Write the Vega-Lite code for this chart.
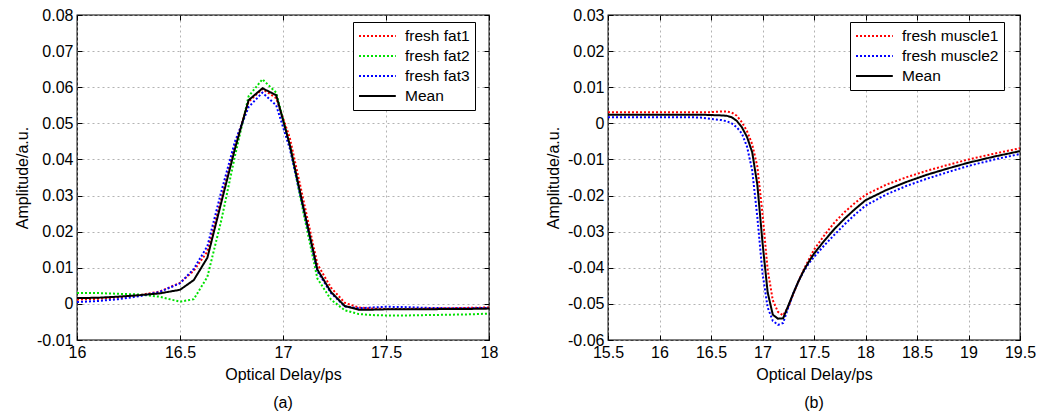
{
  "$schema": "https://vega.github.io/schema/vega-lite/v6.json",
  "background": "white",
  "padding": {"left": 13, "top": 6, "right": 0, "bottom": 0},
  "spacing": 45,
  "datasets": {
    "fat": [
      {"x": 16.0, "fresh fat1": 0.0012, "fresh fat2": 0.0030, "fresh fat3": 0.0005, "Mean": 0.0016},
      {"x": 16.1, "fresh fat1": 0.0014, "fresh fat2": 0.0030, "fresh fat3": 0.0008, "Mean": 0.0017},
      {"x": 16.2, "fresh fat1": 0.0018, "fresh fat2": 0.0028, "fresh fat3": 0.0013, "Mean": 0.0020},
      {"x": 16.3, "fresh fat1": 0.0024, "fresh fat2": 0.0026, "fresh fat3": 0.0021, "Mean": 0.0024},
      {"x": 16.4, "fresh fat1": 0.0034, "fresh fat2": 0.0020, "fresh fat3": 0.0033, "Mean": 0.0029},
      {"x": 16.5, "fresh fat1": 0.0058, "fresh fat2": 0.0006, "fresh fat3": 0.0057, "Mean": 0.0039},
      {"x": 16.567, "fresh fat1": 0.0092, "fresh fat2": 0.0013, "fresh fat3": 0.0097, "Mean": 0.0066},
      {"x": 16.633, "fresh fat1": 0.0145, "fresh fat2": 0.0075, "fresh fat3": 0.0160, "Mean": 0.0128},
      {"x": 16.7, "fresh fat1": 0.0290, "fresh fat2": 0.0230, "fresh fat3": 0.0310, "Mean": 0.0280},
      {"x": 16.767, "fresh fat1": 0.0440, "fresh fat2": 0.0410, "fresh fat3": 0.0450, "Mean": 0.0430},
      {"x": 16.833, "fresh fat1": 0.0560, "fresh fat2": 0.0575, "fresh fat3": 0.0545, "Mean": 0.0564},
      {"x": 16.9, "fresh fat1": 0.0595, "fresh fat2": 0.0622, "fresh fat3": 0.0585, "Mean": 0.0597},
      {"x": 16.967, "fresh fat1": 0.0570, "fresh fat2": 0.0585, "fresh fat3": 0.0550, "Mean": 0.0578},
      {"x": 17.033, "fresh fat1": 0.0460, "fresh fat2": 0.0440, "fresh fat3": 0.0430, "Mean": 0.0440},
      {"x": 17.1, "fresh fat1": 0.0285, "fresh fat2": 0.0250, "fresh fat3": 0.0260, "Mean": 0.0265},
      {"x": 17.167, "fresh fat1": 0.0110, "fresh fat2": 0.0070, "fresh fat3": 0.0090, "Mean": 0.0095},
      {"x": 17.233, "fresh fat1": 0.0045, "fresh fat2": 0.0012, "fresh fat3": 0.0030, "Mean": 0.0033},
      {"x": 17.3, "fresh fat1": 0.0003, "fresh fat2": -0.0018, "fresh fat3": -0.0007, "Mean": -0.0006},
      {"x": 17.367, "fresh fat1": -0.0010, "fresh fat2": -0.0028, "fresh fat3": -0.0012, "Mean": -0.0016},
      {"x": 17.433, "fresh fat1": -0.0013, "fresh fat2": -0.0031, "fresh fat3": -0.0010, "Mean": -0.0016},
      {"x": 17.5, "fresh fat1": -0.0014, "fresh fat2": -0.0032, "fresh fat3": -0.0008, "Mean": -0.0015},
      {"x": 17.6, "fresh fat1": -0.0014, "fresh fat2": -0.0032, "fresh fat3": -0.0009, "Mean": -0.0015},
      {"x": 17.7, "fresh fat1": -0.0013, "fresh fat2": -0.0031, "fresh fat3": -0.0011, "Mean": -0.0015},
      {"x": 17.8, "fresh fat1": -0.0012, "fresh fat2": -0.0030, "fresh fat3": -0.0012, "Mean": -0.0014},
      {"x": 17.9, "fresh fat1": -0.0011, "fresh fat2": -0.0029, "fresh fat3": -0.0012, "Mean": -0.0014},
      {"x": 18.0, "fresh fat1": -0.0010, "fresh fat2": -0.0027, "fresh fat3": -0.0011, "Mean": -0.0013}
    ],
    "muscle": [
      {"x": 15.5, "fresh muscle1": 0.0031, "fresh muscle2": 0.0017, "Mean": 0.0024},
      {"x": 15.7, "fresh muscle1": 0.0031, "fresh muscle2": 0.0017, "Mean": 0.0024},
      {"x": 15.9, "fresh muscle1": 0.0031, "fresh muscle2": 0.0017, "Mean": 0.0024},
      {"x": 16.1, "fresh muscle1": 0.0031, "fresh muscle2": 0.0017, "Mean": 0.0024},
      {"x": 16.3, "fresh muscle1": 0.0031, "fresh muscle2": 0.0017, "Mean": 0.0024},
      {"x": 16.4, "fresh muscle1": 0.0031, "fresh muscle2": 0.0016, "Mean": 0.0024},
      {"x": 16.5, "fresh muscle1": 0.0031, "fresh muscle2": 0.0012, "Mean": 0.0023},
      {"x": 16.6, "fresh muscle1": 0.0033, "fresh muscle2": 0.0009, "Mean": 0.0022},
      {"x": 16.65, "fresh muscle1": 0.0033, "fresh muscle2": 0.0006, "Mean": 0.0021},
      {"x": 16.7, "fresh muscle1": 0.0030, "fresh muscle2": 0.0000, "Mean": 0.0017},
      {"x": 16.75, "fresh muscle1": 0.0021, "fresh muscle2": -0.0011, "Mean": 0.0007},
      {"x": 16.8, "fresh muscle1": 0.0003, "fresh muscle2": -0.0028, "Mean": -0.0011},
      {"x": 16.85, "fresh muscle1": -0.0022, "fresh muscle2": -0.0065, "Mean": -0.0038},
      {"x": 16.9, "fresh muscle1": -0.0058, "fresh muscle2": -0.0130, "Mean": -0.0080},
      {"x": 16.95, "fresh muscle1": -0.0120, "fresh muscle2": -0.0260, "Mean": -0.0170},
      {"x": 17.0, "fresh muscle1": -0.0250, "fresh muscle2": -0.0415, "Mean": -0.0330},
      {"x": 17.05, "fresh muscle1": -0.0405, "fresh muscle2": -0.0510, "Mean": -0.0468},
      {"x": 17.1, "fresh muscle1": -0.0490, "fresh muscle2": -0.0547, "Mean": -0.0530},
      {"x": 17.15, "fresh muscle1": -0.0522, "fresh muscle2": -0.0558, "Mean": -0.0541},
      {"x": 17.2, "fresh muscle1": -0.0532, "fresh muscle2": -0.0553, "Mean": -0.0540},
      {"x": 17.25, "fresh muscle1": -0.0508, "fresh muscle2": -0.0510, "Mean": -0.0505},
      {"x": 17.3, "fresh muscle1": -0.0472, "fresh muscle2": -0.0470, "Mean": -0.0470},
      {"x": 17.35, "fresh muscle1": -0.0437, "fresh muscle2": -0.0437, "Mean": -0.0437},
      {"x": 17.4, "fresh muscle1": -0.0405, "fresh muscle2": -0.0410, "Mean": -0.0408},
      {"x": 17.45, "fresh muscle1": -0.0377, "fresh muscle2": -0.0388, "Mean": -0.0383},
      {"x": 17.5, "fresh muscle1": -0.0350, "fresh muscle2": -0.0370, "Mean": -0.0361},
      {"x": 17.6, "fresh muscle1": -0.0310, "fresh muscle2": -0.0338, "Mean": -0.0325},
      {"x": 17.7, "fresh muscle1": -0.0274, "fresh muscle2": -0.0308, "Mean": -0.0292},
      {"x": 17.8, "fresh muscle1": -0.0245, "fresh muscle2": -0.0279, "Mean": -0.0263},
      {"x": 17.9, "fresh muscle1": -0.0220, "fresh muscle2": -0.0252, "Mean": -0.0237},
      {"x": 18.0, "fresh muscle1": -0.0198, "fresh muscle2": -0.0228, "Mean": -0.0213},
      {"x": 18.2, "fresh muscle1": -0.0170, "fresh muscle2": -0.0197, "Mean": -0.0185},
      {"x": 18.4, "fresh muscle1": -0.0149, "fresh muscle2": -0.0173, "Mean": -0.0162},
      {"x": 18.6, "fresh muscle1": -0.0131, "fresh muscle2": -0.0153, "Mean": -0.0142},
      {"x": 18.8, "fresh muscle1": -0.0115, "fresh muscle2": -0.0135, "Mean": -0.0125},
      {"x": 19.0, "fresh muscle1": -0.0100, "fresh muscle2": -0.0118, "Mean": -0.0109},
      {"x": 19.25, "fresh muscle1": -0.0084, "fresh muscle2": -0.0100, "Mean": -0.0092},
      {"x": 19.5, "fresh muscle1": -0.0069, "fresh muscle2": -0.0085, "Mean": -0.0077}
    ]
  },
  "hconcat": [
    {
      "width": 412,
      "height": 325,
      "title": {"text": "(a)"},
      "data": {"name": "fat"},
      "transform": [{"fold": ["fresh fat1", "fresh fat2", "fresh fat3", "Mean"], "as": ["s", "y"]}],
      "layer": [
        {
          "mark": {"type": "line", "strokeWidth": 2, "clip": true},
          "encoding": {
            "x": {"field": "x", "type": "quantitative", "scale": {"domain": [16, 18], "nice": false, "zero": false},
                  "axis": {"title": "Optical Delay/ps", "values": [16, 16.5, 17, 17.5, 18], "format": "~g"}},
            "y": {"field": "y", "type": "quantitative", "scale": {"domain": [-0.01, 0.08], "nice": false, "zero": false},
                  "axis": {"title": "Amplitude/a.u.", "values": [-0.01, 0, 0.01, 0.02, 0.03, 0.04, 0.05, 0.06, 0.07, 0.08], "format": "~g", "labelExpr": "replace(datum.label, '\u2212', '-')"}},
            "color": {"field": "s", "type": "nominal", "sort": null,
                      "scale": {"domain": ["fresh fat1", "fresh fat2", "fresh fat3", "Mean"], "range": ["#ff0000", "#00e000", "#0000ff", "#000000"]},
                      "legend": {"title": null, "orient": "none", "legendX": 276, "legendY": 7, "labelExpr": "datum.label + '\u00a0\u00a0\u00a0'"}},
            "strokeDash": {"field": "s", "type": "nominal", "sort": null,
                      "scale": {"domain": ["fresh fat1", "fresh fat2", "fresh fat3", "Mean"], "range": [[2, 2], [2, 2], [2, 2], [1, 0]]},
                      "legend": {"title": null, "orient": "none", "legendX": 276, "legendY": 7, "labelExpr": "datum.label + '\u00a0\u00a0\u00a0'"}}
          }
        },
        {
          "mark": {"type": "point", "opacity": 0},
          "encoding": {
            "x": {"field": "x", "type": "quantitative", "scale": {"domain": [16, 18], "nice": false, "zero": false},
                  "axis": {"orient": "top", "title": null, "labels": false, "grid": false, "values": [16, 16.5, 17, 17.5, 18]}},
            "y": {"field": "y", "type": "quantitative", "scale": {"domain": [-0.01, 0.08], "nice": false, "zero": false},
                  "axis": {"orient": "right", "title": null, "labels": false, "grid": false, "values": [-0.01, 0, 0.01, 0.02, 0.03, 0.04, 0.05, 0.06, 0.07, 0.08]}}
          }
        }
      ],
      "resolve": {"axis": {"x": "independent", "y": "independent"}}
    },
    {
      "width": 412,
      "height": 325,
      "title": {"text": "(b)"},
      "data": {"name": "muscle"},
      "transform": [{"fold": ["fresh muscle1", "fresh muscle2", "Mean"], "as": ["s", "y"]}],
      "layer": [
        {
          "mark": {"type": "line", "strokeWidth": 2, "clip": true},
          "encoding": {
            "x": {"field": "x", "type": "quantitative", "scale": {"domain": [15.5, 19.5], "nice": false, "zero": false},
                  "axis": {"title": "Optical Delay/ps", "values": [15.5, 16, 16.5, 17, 17.5, 18, 18.5, 19, 19.5], "format": "~g"}},
            "y": {"field": "y", "type": "quantitative", "scale": {"domain": [-0.06, 0.03], "nice": false, "zero": false},
                  "axis": {"title": "Amplitude/a.u.", "values": [-0.06, -0.05, -0.04, -0.03, -0.02, -0.01, 0, 0.01, 0.02, 0.03], "format": "~g", "labelExpr": "replace(datum.label, '\u2212', '-')"}},
            "color": {"field": "s", "type": "nominal", "sort": null,
                      "scale": {"domain": ["fresh muscle1", "fresh muscle2", "Mean"], "range": ["#ff0000", "#0000ff", "#000000"]},
                      "legend": {"title": null, "orient": "none", "legendX": 242, "legendY": 7, "labelExpr": "datum.label + '\u00a0\u00a0\u00a0'"}},
            "strokeDash": {"field": "s", "type": "nominal", "sort": null,
                      "scale": {"domain": ["fresh muscle1", "fresh muscle2", "Mean"], "range": [[2, 2], [2, 2], [1, 0]]},
                      "legend": {"title": null, "orient": "none", "legendX": 242, "legendY": 7, "labelExpr": "datum.label + '\u00a0\u00a0\u00a0'"}}
          }
        },
        {
          "mark": {"type": "point", "opacity": 0},
          "encoding": {
            "x": {"field": "x", "type": "quantitative", "scale": {"domain": [15.5, 19.5], "nice": false, "zero": false},
                  "axis": {"orient": "top", "title": null, "labels": false, "grid": false, "values": [15.5, 16, 16.5, 17, 17.5, 18, 18.5, 19, 19.5]}},
            "y": {"field": "y", "type": "quantitative", "scale": {"domain": [-0.06, 0.03], "nice": false, "zero": false},
                  "axis": {"orient": "right", "title": null, "labels": false, "grid": false, "values": [-0.06, -0.05, -0.04, -0.03, -0.02, -0.01, 0, 0.01, 0.02, 0.03]}}
          }
        }
      ],
      "resolve": {"axis": {"x": "independent", "y": "independent"}}
    }
  ],
  "resolve": {"scale": {"color": "independent", "strokeDash": "independent"}, "legend": {"color": "independent", "strokeDash": "independent"}},
  "config": {
    "font": "Liberation Sans",
    "view": {"stroke": "#000000", "strokeWidth": 1.3},
    "axis": {
      "labelFont": "Liberation Sans", "labelFontSize": 16, "labelColor": "#000000",
      "titleFont": "Liberation Sans", "titleFontSize": 16, "titleFontWeight": "normal", "titleColor": "#000000",
      "domain": false, "tickColor": "#000000", "tickSize": -5, "tickWidth": 1, "labelPadding": 9,
      "labelFlush": false, "labelOverlap": false,
      "gridColor": "#a0a0a0", "gridDash": [2, 3], "gridWidth": 0.8, "gridOpacity": 1
    },
    "axisX": {"titlePadding": 6},
    "axisY": {"titlePadding": 6},
    "legend": {
      "symbolType": "M-1,0H3.6", "symbolSize": 256, "symbolStrokeWidth": 2,
      "labelFont": "Liberation Sans", "labelFontSize": 15.5, "labelColor": "#000000", "labelOffset": 29,
      "padding": 5, "rowPadding": 2, "strokeColor": "#000000", "fillColor": "#ffffff"
    },
    "title": {"orient": "bottom", "font": "Liberation Sans", "fontSize": 16, "fontWeight": "normal", "color": "#000000", "anchor": "middle", "frame": "group", "offset": 13}
  }
}
